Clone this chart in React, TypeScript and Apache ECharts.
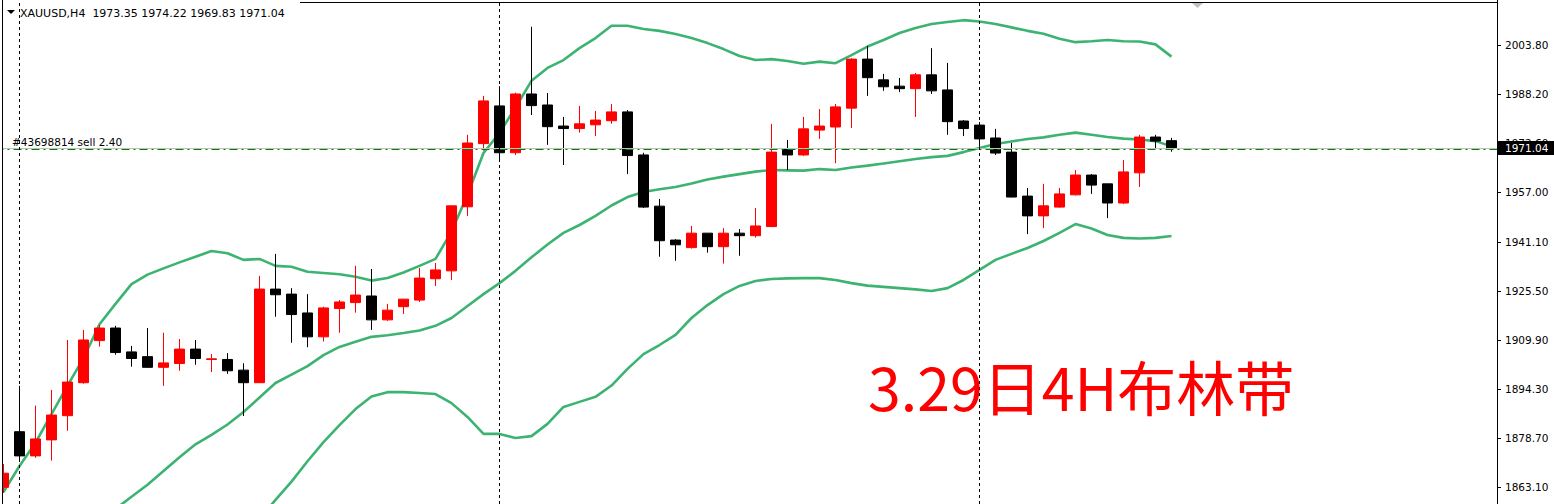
import React, { useEffect, useRef } from "react";
import * as echarts from "echarts";

// OHLC of XAUUSD H4 candles
const opens = [1863.0, 1880.7, 1873.0, 1878.1, 1885.8, 1896.3, 1909.7, 1913.7, 1906.1, 1904.6, 1901.2, 1902.4, 1907.0, 1903.7, 1903.7, 1900.3, 1896.3, 1926.1, 1924.5, 1918.5, 1910.9, 1919.9, 1921.8, 1923.9, 1916.3, 1920.5, 1922.6, 1929.4, 1931.9, 1952.3, 1972.4, 1984.4, 1969.5, 1988.2, 1984.7, 1978.0, 1977.2, 1978.4, 1979.7, 1982.5, 1968.8, 1952.5, 1941.7, 1939.3, 1943.9, 1939.6, 1943.9, 1943.1, 1946.0, 1970.7, 1968.8, 1976.7, 1977.7, 1983.7, 1999.3, 1992.7, 1990.7, 1989.9, 1994.3, 1989.5, 1979.6, 1978.3, 1974.2, 1969.7, 1955.7, 1949.4, 1952.2, 1956.1, 1962.4, 1959.6, 1953.5, 1963.1, 1974.5, 1973.35];
const closes = [1867.5, 1873.0, 1878.4, 1886.0, 1896.5, 1909.9, 1913.7, 1905.9, 1904.0, 1901.2, 1902.6, 1907.0, 1904.0, 1903.9, 1900.1, 1896.3, 1926.1, 1924.3, 1918.0, 1910.9, 1920.1, 1922.0, 1924.2, 1916.3, 1919.4, 1922.9, 1929.6, 1932.2, 1952.6, 1972.6, 1986.0, 1969.5, 1988.2, 1984.5, 1977.8, 1977.2, 1978.7, 1979.9, 1982.5, 1968.6, 1952.2, 1941.5, 1940.2, 1943.9, 1939.6, 1943.9, 1943.1, 1946.2, 1969.7, 1968.8, 1977.1, 1978.0, 1984.1, 1999.3, 1993.4, 1990.5, 1989.9, 1994.3, 1989.2, 1979.4, 1977.2, 1973.9, 1969.4, 1955.4, 1949.4, 1952.6, 1956.4, 1962.4, 1959.2, 1953.5, 1963.4, 1974.5, 1973.2, 1971.04];
const lows = [1861.2, 1871.7, 1872.4, 1871.5, 1881.0, 1896.0, 1907.8, 1905.2, 1901.4, 1901.0, 1895.3, 1900.1, 1902.0, 1899.7, 1899.1, 1885.7, 1896.2, 1917.3, 1909.0, 1907.6, 1909.4, 1912.2, 1918.6, 1913.1, 1916.0, 1918.2, 1922.0, 1927.1, 1929.0, 1949.4, 1970.2, 1966.7, 1968.8, 1981.5, 1972.0, 1965.6, 1975.9, 1974.8, 1978.7, 1962.7, 1951.9, 1936.4, 1935.1, 1939.0, 1937.7, 1934.2, 1936.7, 1942.5, 1945.8, 1964.0, 1968.5, 1973.9, 1966.2, 1977.4, 1987.6, 1989.2, 1988.8, 1980.9, 1988.2, 1975.2, 1974.8, 1971.4, 1968.8, 1955.3, 1943.6, 1945.5, 1952.0, 1955.9, 1956.4, 1948.7, 1953.2, 1958.6, 1970.7, 1969.83];
const highs = [1870.4, 1895.3, 1889.0, 1894.0, 1909.9, 1913.1, 1914.7, 1914.4, 1908.0, 1913.7, 1912.2, 1910.2, 1909.9, 1905.4, 1905.7, 1902.5, 1930.3, 1937.3, 1926.4, 1924.5, 1920.5, 1922.6, 1933.5, 1932.5, 1921.4, 1922.9, 1932.8, 1934.4, 1952.6, 1975.2, 1987.6, 1990.7, 1988.6, 2009.6, 1988.5, 1980.9, 1984.4, 1982.8, 1985.0, 1983.1, 1969.5, 1954.8, 1942.0, 1946.2, 1943.9, 1945.5, 1945.2, 1951.9, 1978.7, 1973.6, 1980.9, 1983.4, 1985.0, 1999.6, 2003.5, 1994.6, 1993.3, 1994.9, 2002.8, 1998.1, 1979.9, 1979.3, 1977.1, 1972.6, 1958.3, 1959.6, 1958.3, 1964.0, 1962.7, 1959.6, 1967.2, 1975.2, 1975.2, 1974.22];

// Bollinger bands
const upperBand = [1861.5, 1869.8, 1877.2, 1886.3, 1895.4, 1904.1, 1914.9, 1921.4, 1927.7, 1930.7, 1932.7, 1934.6, 1936.4, 1938.2, 1937.5, 1935.4, 1935.7, 1933.5, 1933.2, 1931.6, 1931.2, 1930.8, 1930.0, 1928.8, 1929.6, 1931.4, 1933.5, 1935.7, 1944.4, 1956.1, 1969.4, 1975.8, 1983.9, 1992.4, 1996.5, 1999.0, 2002.8, 2006.0, 2009.9, 2009.9, 2008.9, 2008.3, 2007.3, 2006.0, 2004.4, 2002.5, 2000.3, 1999.0, 1999.3, 1998.7, 1997.8, 1998.5, 1998.0, 2000.6, 2003.3, 2005.4, 2007.6, 2009.2, 2010.5, 2011.1, 2011.7, 2011.3, 2010.5, 2009.4, 2008.3, 2007.4, 2005.8, 2004.7, 2005.0, 2005.4, 2005.0, 2004.9, 2004.0, 2000.1];
const middleBand = [null, null, null, null, null, null, 1852.3, 1856.1, 1860.0, 1863.8, 1868.2, 1872.6, 1876.7, 1879.7, 1883.0, 1887.0, 1891.6, 1896.2, 1898.9, 1901.6, 1905.1, 1907.7, 1909.3, 1910.9, 1911.4, 1912.1, 1912.9, 1914.4, 1916.9, 1920.7, 1924.5, 1928.0, 1931.9, 1936.2, 1940.3, 1944.0, 1946.5, 1949.4, 1952.7, 1955.4, 1957.0, 1957.9, 1958.6, 1959.7, 1961.0, 1961.9, 1962.7, 1963.5, 1964.0, 1963.9, 1963.8, 1964.3, 1964.0, 1964.8, 1965.4, 1966.1, 1966.8, 1967.5, 1968.1, 1968.5, 1969.7, 1971.0, 1972.3, 1973.1, 1973.9, 1974.4, 1975.2, 1975.9, 1975.2, 1974.5, 1974.0, 1973.7, 1973.2, 1971.6];
const lowerBand = [null, null, null, null, null, null, null, null, null, null, null, null, null, null, null, 1846.9, 1852.9, 1859.0, 1864.8, 1871.3, 1877.4, 1882.8, 1887.9, 1891.9, 1893.3, 1893.3, 1893.0, 1892.7, 1889.8, 1885.4, 1880.0, 1880.0, 1878.7, 1879.3, 1883.2, 1888.6, 1890.2, 1891.8, 1895.4, 1900.7, 1905.4, 1908.3, 1911.5, 1916.9, 1921.0, 1924.5, 1927.1, 1928.7, 1929.3, 1929.5, 1929.6, 1929.6, 1929.0, 1928.0, 1927.2, 1926.8, 1926.4, 1926.0, 1925.5, 1926.4, 1929.0, 1932.2, 1935.4, 1937.3, 1939.2, 1941.4, 1944.0, 1946.8, 1945.4, 1943.3, 1942.4, 1942.2, 1942.4, 1943.0];

const priceTicks = [1863.1, 1878.7, 1894.3, 1909.9, 1925.5, 1941.1, 1957.0, 1972.6, 1988.2, 2003.8];
const separatorBars = ["1", "31", "61"];
const slotCount = 94;
const categories = Array.from({ length: slotCount }, (_, i) => String(i));
const lastPrice = 1971.04;
const orderPrice = 1970.5;
const orderLabel = "#43698814 sell 2.40";
const headerText = "XAUUSD,H4  1973.35 1974.22 1969.83 1971.04";
const titleText = "3.29日4H布林带";

export default function App() {
  const ref = useRef<HTMLDivElement>(null);
  useEffect(() => {
    const chart = echarts.init(ref.current!, null, { renderer: "svg" });
    const font = "DejaVu Sans";
    const candleData = opens.map((o, i) => [o, closes[i], lows[i], highs[i]]);
    const bandStyle = { color: "#3cb371", width: 2.6 };
    chart.setOption({
      animation: false,
      backgroundColor: "#ffffff",
      grid: { left: -4.5, right: 54.5, top: 0, bottom: 0, containLabel: false, outerBoundsMode: "none" },
      xAxis: {
        type: "category",
        data: categories,
        boundaryGap: true,
        axisLine: { show: false },
        axisTick: { show: false },
        axisLabel: { show: false },
        splitLine: { show: false },
      },
      yAxis: {
        type: "value",
        position: "right",
        offset: -2.5,
        min: 1857.69,
        max: 2018.12,
        splitLine: { show: false },
        axisLine: { show: true, lineStyle: { color: "#000", width: 1 } },
        axisTick: { show: true, length: 4, customValues: priceTicks, lineStyle: { color: "#000" } },
        axisLabel: {
          customValues: priceTicks,
          formatter: (v: number) => v.toFixed(2),
          color: "#000",
          fontFamily: font,
          fontSize: 10.5,
          margin: 8,
        },
      },
      series: [
        { type: "line", data: upperBand, showSymbol: false, lineStyle: bandStyle, z: 2, silent: true },
        { type: "line", data: middleBand, showSymbol: false, lineStyle: bandStyle, z: 2, silent: true },
        { type: "line", data: lowerBand, showSymbol: false, lineStyle: bandStyle, z: 2, silent: true },
        {
          type: "candlestick",
          data: candleData,
          barWidth: 10,
          z: 3,
          itemStyle: {
            color: "#ff0000",
            color0: "#000000",
            borderColor: "#ff0000",
            borderColor0: "#000000",
            borderWidth: 1,
          },
          markLine: {
            silent: true,
            symbol: ["none", "none"],
            label: { show: false },
            data: [
              { yAxis: lastPrice, lineStyle: { color: "#c0c0c0", type: "solid", width: 1 } },
              { yAxis: orderPrice, lineStyle: { color: "#008000", type: [8, 4, 2, 4], width: 1 } },
              ...separatorBars.map((b) => ({ xAxis: b, lineStyle: { color: "#000", type: [3, 3], width: 1 } })),
            ],
          },
        },
      ],
    });
    const yLast = chart.convertToPixel({ yAxisIndex: 0 }, lastPrice) as number;
    const yOrder = chart.convertToPixel({ yAxisIndex: 0 }, orderPrice) as number;
    chart.setOption({
      graphic: [
        { type: "rect", shape: { x: 0, y: 0, width: 2, height: 504 }, style: { fill: "#fff" }, z: 100 },
        { type: "line", shape: { x1: 2.5, y1: 0, x2: 2.5, y2: 504 }, style: { stroke: "#000", lineWidth: 1 }, z: 101 },
        { type: "line", shape: { x1: 300, y1: 2.5, x2: 1497, y2: 2.5 }, style: { stroke: "#000", lineWidth: 1 }, z: 101 },
        { type: "polygon", shape: { points: [[7, 10], [15, 10], [11, 14]] }, style: { fill: "#000" }, z: 101 },
        { type: "polygon", shape: { points: [[1192, 3], [1203, 3], [1197.5, 8]] }, style: { fill: "#c0c0c0" }, z: 101 },
        {
          type: "text", x: 20, y: 13, z: 101,
          style: { text: headerText, fill: "#000", font: `11px "${font}"`, verticalAlign: "middle", align: "left" },
        },
        {
          type: "text", x: 12, y: yOrder - 2, z: 101,
          style: { text: orderLabel, fill: "#000", font: `10.5px "${font}"`, verticalAlign: "bottom", align: "left" },
        },
        { type: "rect", shape: { x: 1497, y: Math.round(yLast) - 7, width: 57, height: 14 }, style: { fill: "#000" }, z: 102 },
        {
          type: "text", x: 1505, y: yLast, z: 103,
          style: { text: lastPrice.toFixed(2), fill: "#fff", font: `10.5px "${font}"`, verticalAlign: "middle", align: "left" },
        },
        {
          type: "text", x: 868, y: 385, z: 101,
          style: { text: titleText, fill: "#ff0000", font: `59px "Noto Sans CJK SC"`, verticalAlign: "middle", align: "left" },
        },
      ],
    });
    return () => chart.dispose();
  }, []);
  return <div ref={ref} style={{ position: "absolute", left: 0, top: 0, width: 1554, height: 504 }} />;
}
